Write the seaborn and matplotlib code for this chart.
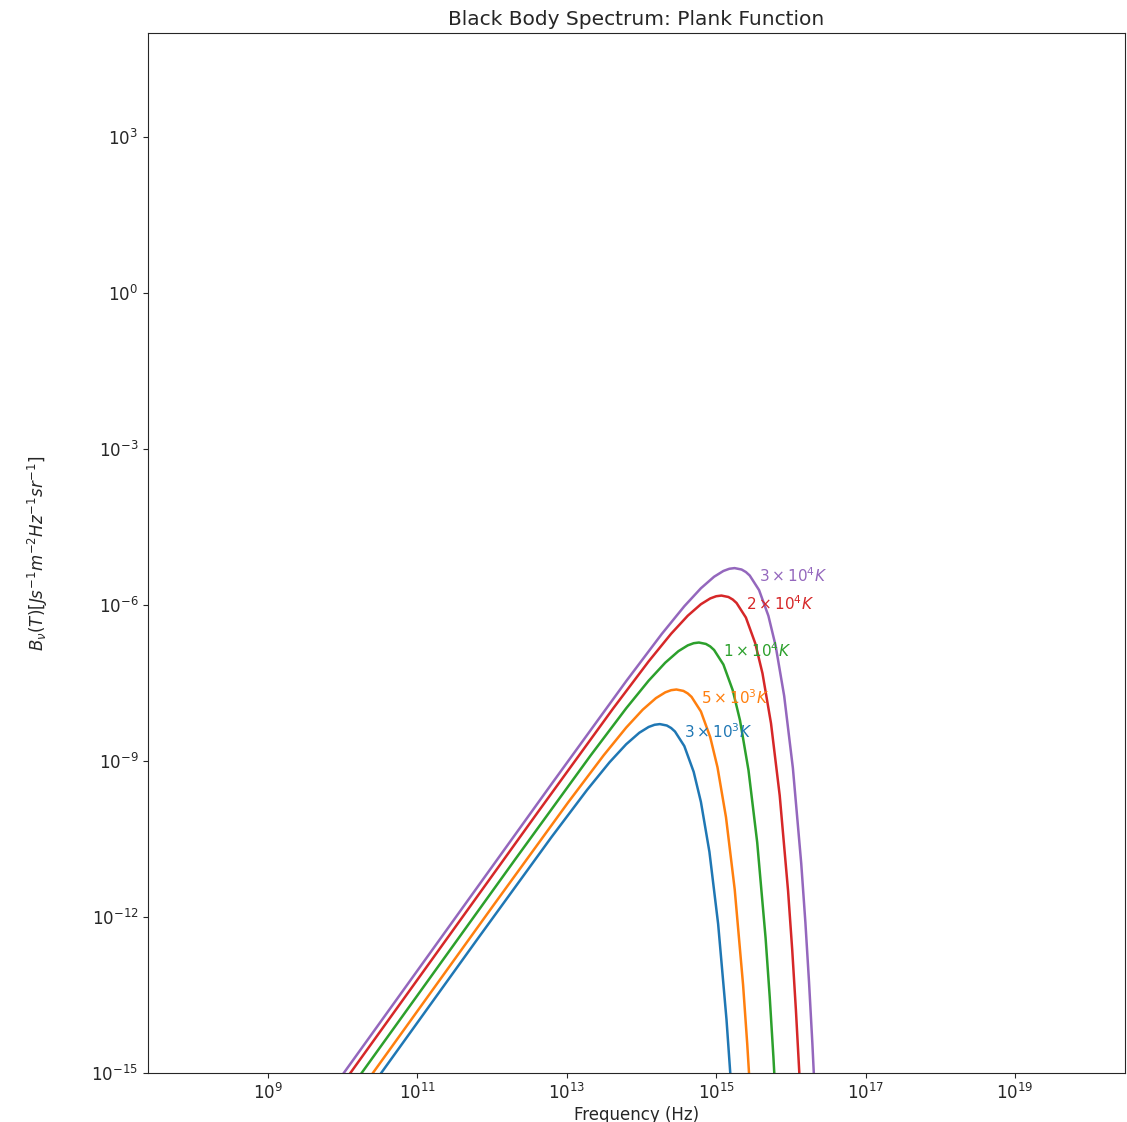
import numpy as np
import pandas as pd
import seaborn as sns
import matplotlib.pyplot as plt

# Temperatures of the five curves (K) and their labels
temperatures = [3e3, 5e3, 1e4, 2e4, 3e4]
curve_labels = [r'$3 \times 10^3 K$', r'$5 \times 10^3 K$', r'$1 \times 10^4 K$',
                r'$2 \times 10^4 K$', r'$3 \times 10^4 K$']
colors = ['#1f77b4', '#ff7f0e', '#2ca02c', '#d62728', '#9467bd']

# B_nu(T), frequency in Hz, B in J s^-1 m^-2 Hz^-1 sr^-1
freq_3e3 = [6.251e7, 6.251e11, 6.251e12, 1.875e13, 3.751e13, 6.251e13, 9.377e13, 1.250e14,
            1.500e14, 1.763e14, 2.188e14, 2.500e14, 2.813e14, 3.751e14, 5.001e14, 6.251e14,
            8.126e14, 1.063e15, 1.375e15, 1.563e15]
B_3e3 = [3.601e-21, 3.583e-13, 3.424e-11, 2.779e-10, 9.461e-10, 2.096e-9, 3.491e-9, 4.509e-9,
         4.967e-9, 5.119e-9, 4.808e-9, 4.300e-9, 3.686e-9, 1.933e-9, 6.187e-10, 1.635e-10,
         1.788e-11, 7.325e-13, 1.070e-14, 7.815e-16]

freq_5e3 = [1.042e8, 1.042e12, 1.042e13, 3.126e13, 6.251e13, 1.042e14, 1.563e14, 2.084e14,
            2.501e14, 2.938e14, 3.647e14, 4.168e14, 4.689e14, 6.251e14, 8.335e14, 1.042e15,
            1.354e15, 1.771e15, 2.292e15, 2.605e15, 2.917e15]
B_5e3 = [1.667e-20, 1.659e-12, 1.585e-10, 1.286e-9, 4.379e-9, 9.702e-9, 1.616e-8, 2.087e-8,
         2.299e-8, 2.369e-8, 2.225e-8, 1.991e-8, 1.706e-8, 8.947e-9, 2.864e-9, 7.568e-10,
         8.278e-11, 3.391e-12, 4.951e-14, 3.617e-15, 2.530e-16]

freq_1e4 = [2.084e8, 2.084e12, 2.084e13, 6.251e13, 1.250e14, 2.084e14, 3.126e14, 4.167e14,
            5.001e14, 5.876e14, 7.293e14, 8.335e14, 9.377e14, 1.250e15, 1.667e15, 2.084e15,
            2.709e15, 3.542e15, 4.584e15, 5.209e15, 5.834e15, 6.459e15]
B_1e4 = [1.334e-19, 1.327e-11, 1.268e-9, 1.029e-8, 3.504e-8, 7.763e-8, 1.293e-7, 1.670e-7,
         1.840e-7, 1.896e-7, 1.781e-7, 1.593e-7, 1.365e-7, 7.159e-8, 2.292e-8, 6.055e-9,
         6.624e-10, 2.713e-11, 3.961e-13, 2.894e-14, 2.025e-15, 1.368e-16]

freq_2e4 = [4.167e8, 4.167e12, 4.167e13, 1.250e14, 2.500e14, 4.167e14, 6.251e14, 8.335e14,
            1.000e15, 1.175e15, 1.459e15, 1.667e15, 1.875e15, 2.500e15, 3.334e15, 4.167e15,
            5.418e15, 7.085e15, 9.168e15, 1.042e16, 1.167e16, 1.292e16, 1.459e16]
B_2e4 = [1.067e-18, 1.062e-10, 1.015e-8, 8.234e-8, 2.803e-7, 6.210e-7, 1.034e-6, 1.336e-6,
         1.472e-6, 1.517e-6, 1.424e-6, 1.274e-6, 1.092e-6, 5.727e-7, 1.833e-7, 4.844e-8,
         5.299e-9, 2.170e-10, 3.169e-12, 2.315e-13, 1.620e-14, 1.095e-15, 2.884e-17]

freq_3e4 = [6.251e8, 6.251e12, 6.251e13, 1.875e14, 3.751e14, 6.251e14, 9.377e14, 1.250e15,
            1.500e15, 1.763e15, 2.188e15, 2.500e15, 2.813e15, 3.751e15, 5.001e15, 6.251e15,
            8.126e15, 1.063e16, 1.375e16, 1.563e16, 1.750e16, 1.938e16, 2.188e16]
B_3e4 = [3.601e-18, 3.583e-10, 3.424e-8, 2.779e-7, 9.461e-7, 2.096e-6, 3.491e-6, 4.509e-6,
         4.967e-6, 5.119e-6, 4.808e-6, 4.300e-6, 3.686e-6, 1.933e-6, 6.187e-7, 1.635e-7,
         1.788e-8, 7.325e-10, 1.070e-11, 7.815e-13, 5.467e-14, 3.695e-15, 9.735e-17]

# where each curve label sits (data coords)
label_freq = [3.75e14, 6.25e14, 1.25e15, 2.5e15, 3.75e15]
label_B = [3.6e-9, 1.67e-8, 1.33e-7, 1.07e-6, 3.6e-6]

freqs = [freq_3e3, freq_5e3, freq_1e4, freq_2e4, freq_3e4]
Bs = [B_3e3, B_5e3, B_1e4, B_2e4, B_3e4]
df = pd.concat([pd.DataFrame({'freq': f, 'B': b, 'T': T})
                for T, f, b in zip(temperatures, freqs, Bs)], ignore_index=True)

sns.set_style('ticks')
plt.rcParams['font.family'] = ['DejaVu Sans']

fig = plt.figure(figsize=(11.27, 11.22), dpi=100)
ax = fig.add_axes([0.1313, 0.0437, 0.8669, 0.9269])
sns.lineplot(data=df, x='freq', y='B', hue='T', hue_order=temperatures, palette=colors,
             estimator=None, sort=False, legend=False, lw=1.8, ax=ax)
ax.set_xscale('log')
ax.set_yscale('log')
ax.set_xlim(2.5e7, 2.95e20)
ax.set_ylim(1e-15, 1e5)
ax.set_xticks([1e9, 1e11, 1e13, 1e15, 1e17, 1e19])
ax.set_yticks([1e-15, 1e-12, 1e-9, 1e-6, 1e-3, 1e0, 1e3])
ax.minorticks_off()
ax.tick_params(labelsize=12)

for f, b, lab, c in zip(label_freq, label_B, curve_labels, colors):
    ax.text(f, b, lab, color=c, fontsize=11, ha='left', va='center')

ax.set_title('Black Body Spectrum: Plank Function', fontsize=14.5)
ax.set_xlabel('Frequency (Hz)', fontsize=12, labelpad=2)
ax.set_ylabel(r'$B_\nu(T) [Js^{-1}m^{-2}Hz^{-1}sr^{-1}]$', fontsize=12)
ax.yaxis.set_label_coords(-0.100, 0.5)

fig.savefig('out.png', dpi=100)
